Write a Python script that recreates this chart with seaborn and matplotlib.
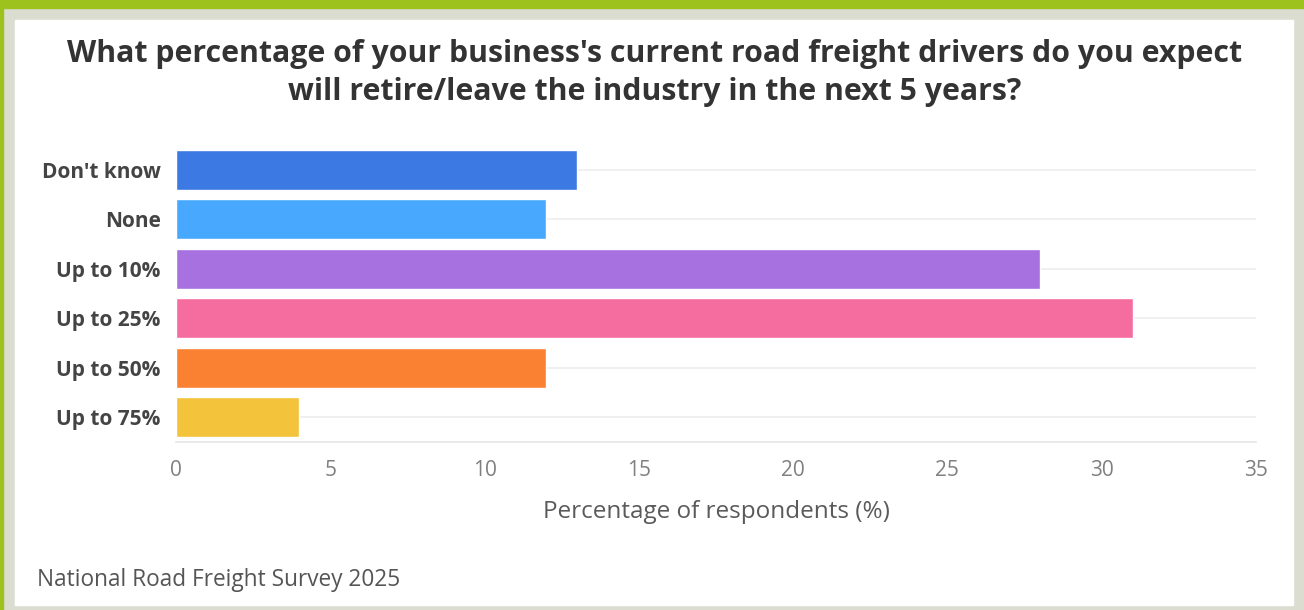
"""
Road freight survey — driver retirement expectations (horizontal bar chart)
"""

import pandas as pd
import matplotlib.pyplot as plt
import matplotlib.patches as mpatches
import seaborn as sns

# ── Data ─────────────────────────────────────────────────────────────────────
categories = ["Don't know", "None", "Up to 10%", "Up to 25%", "Up to 50%", "Up to 75%"]
percent    = [13, 12, 28, 31, 12, 4]
bar_colors = ["#3D79E3", "#47A8FE", "#A771DF", "#F56C9E", "#F98131", "#F2C33B"]
x_ticks    = [0, 5, 10, 15, 20, 25, 30, 35]

TITLE  = ("What percentage of your business's current road freight drivers do you expect\n"
          "will retire/leave the industry in the next 5 years?")
XLABEL = "Percentage of respondents (%)"
SOURCE = "National Road Freight Survey 2025"

df = pd.DataFrame({"category": categories, "percent": percent})

# ── Style ────────────────────────────────────────────────────────────────────
sns.set_style("white")
plt.rcParams["font.family"] = ["Open Sans", "DejaVu Sans"]

W, H = 1304, 610
fig = plt.figure(figsize=(W / 100, H / 100), dpi=100, facecolor="#DCDDD1")

# frame: green strip on top + left, white card inside
fig.patches.append(mpatches.Rectangle((0, 1 - 8 / H), 1, 8 / H, transform=fig.transFigure,
                                      color="#9DC21E", zorder=-5))
fig.patches.append(mpatches.Rectangle((0, 0), 3 / W, 1, transform=fig.transFigure,
                                      color="#9DC21E", zorder=-5))
fig.patches.append(mpatches.Rectangle((15 / W, 5 / H), (1293 - 15) / W, (590 - 5) / H,
                                      transform=fig.transFigure, color="white", zorder=-5))

ax = fig.add_axes([176 / W, 1 - 442 / H, (1256 - 176) / W, (442 - 145) / H])
ax.set_zorder(5)
ax.set_facecolor("none")

sns.barplot(data=df, x="percent", y="category", hue="category",
            palette=dict(zip(categories, bar_colors)), order=categories,
            width=0.8, legend=False, saturation=1, ax=ax, zorder=3)

# horizontal guide lines at each category
for i in range(len(categories)):
    ax.axhline(i, color="#EEEEEE", linewidth=1.2, zorder=1)

ax.set_xlim(0, 35)
ax.set_xticks(x_ticks)
ax.set_xticklabels([str(t) for t in x_ticks])
ax.set_ylim(len(categories) - 0.5, -0.5)

for side in ["top", "right", "left"]:
    ax.spines[side].set_visible(False)
ax.spines["bottom"].set_color("#E6E6E6")
ax.spines["bottom"].set_linewidth(1.2)

ax.tick_params(axis="x", length=10, width=1.2, color="#E6E6E6",
               labelcolor="#808080", labelsize=15, pad=3)
ax.tick_params(axis="y", length=10, width=1.2, color="#EEEEEE",
               labelcolor="#444444", labelsize=15, pad=1)
for lbl in ax.get_yticklabels():
    lbl.set_fontweight("bold")

ax.set_ylabel("")
ax.set_xlabel(XLABEL, fontsize=17.5, color="#5A5A5A", labelpad=14)

fig.text(655 / W, 1 - 73 / H, TITLE, ha="center", va="center",
         fontsize=21.8, fontweight="bold", color="#333333", linespacing=1.32)
fig.text(37 / W, 1 - 580 / H, SOURCE, ha="left", va="center",
         fontsize=16.3, color="#555555")

fig.savefig("out.png", dpi=100, facecolor=fig.get_facecolor())
